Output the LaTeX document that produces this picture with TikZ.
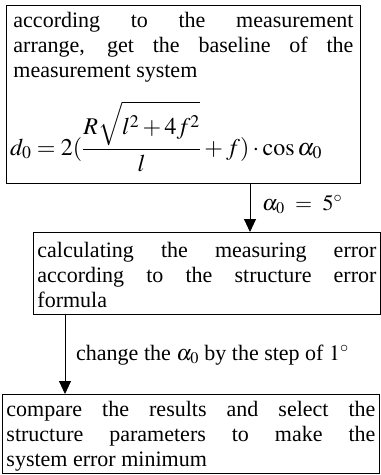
\documentclass[tikz,border=0pt]{standalone}
\usepackage{mathptmx}
\usepackage{fontspec}
\setmainfont{Liberation Serif}
\usetikzlibrary{arrows.meta}
\begin{document}
\begin{tikzpicture}[x=1pt,y=1pt,
  box/.style={draw=black,line width=0.9pt,rectangle,inner ysep=0pt,align=justify,anchor=north west,
    font=\fontsize{22}{25}\selectfont},
  conn/.style={draw=black,line width=0.9pt,-{Triangle[width=12pt,length=13pt]}},
  lbl/.style={anchor=base west,inner sep=0pt,font=\fontsize{22}{25}\selectfont}]
\useasboundingbox (0,0) rectangle (381,-475);
\node[box,inner xsep=7pt,text width=340pt,text height=22pt,text depth=156pt] (b1) at (6,-5)
  {according to the measurement\linebreak arrange, get the baseline of the\linebreak measurement system};
\node[anchor=base west,inner sep=0pt,font=\fontsize{24}{26}\selectfont] (f1) at (10,-155)
  {$\displaystyle d_0=2(\frac{R\sqrt{\rule[-3pt]{0pt}{27pt}l^2+4f^2}}{l}+f)\cdot\cos\alpha_0$};
\node[box,inner xsep=4pt,text width=339pt,text height=25pt,text depth=57pt] (b2) at (33,-232)
  {calculating the measuring error\linebreak according to the structure error\linebreak formula};
\node[box,inner xsep=4pt,text width=369pt,text height=22pt,text depth=57pt] (b3) at (2,-394)
  {compare the results and select the\linebreak structure parameters to make the\linebreak system error minimum};
\draw[conn] ([xshift=244pt]b1.south west) -- ([xshift=217pt]b2.north west);
\draw[conn] ([xshift=32pt]b2.south west) -- ([xshift=63pt]b3.north west);
\node[lbl] (l1) at (262,-210) {$\alpha_0\ =\ 5^\circ$};
\node[lbl] (l2) at (76,-360) {change the $\alpha_0$ by the step of $1^\circ$};
\end{tikzpicture}
\end{document}
